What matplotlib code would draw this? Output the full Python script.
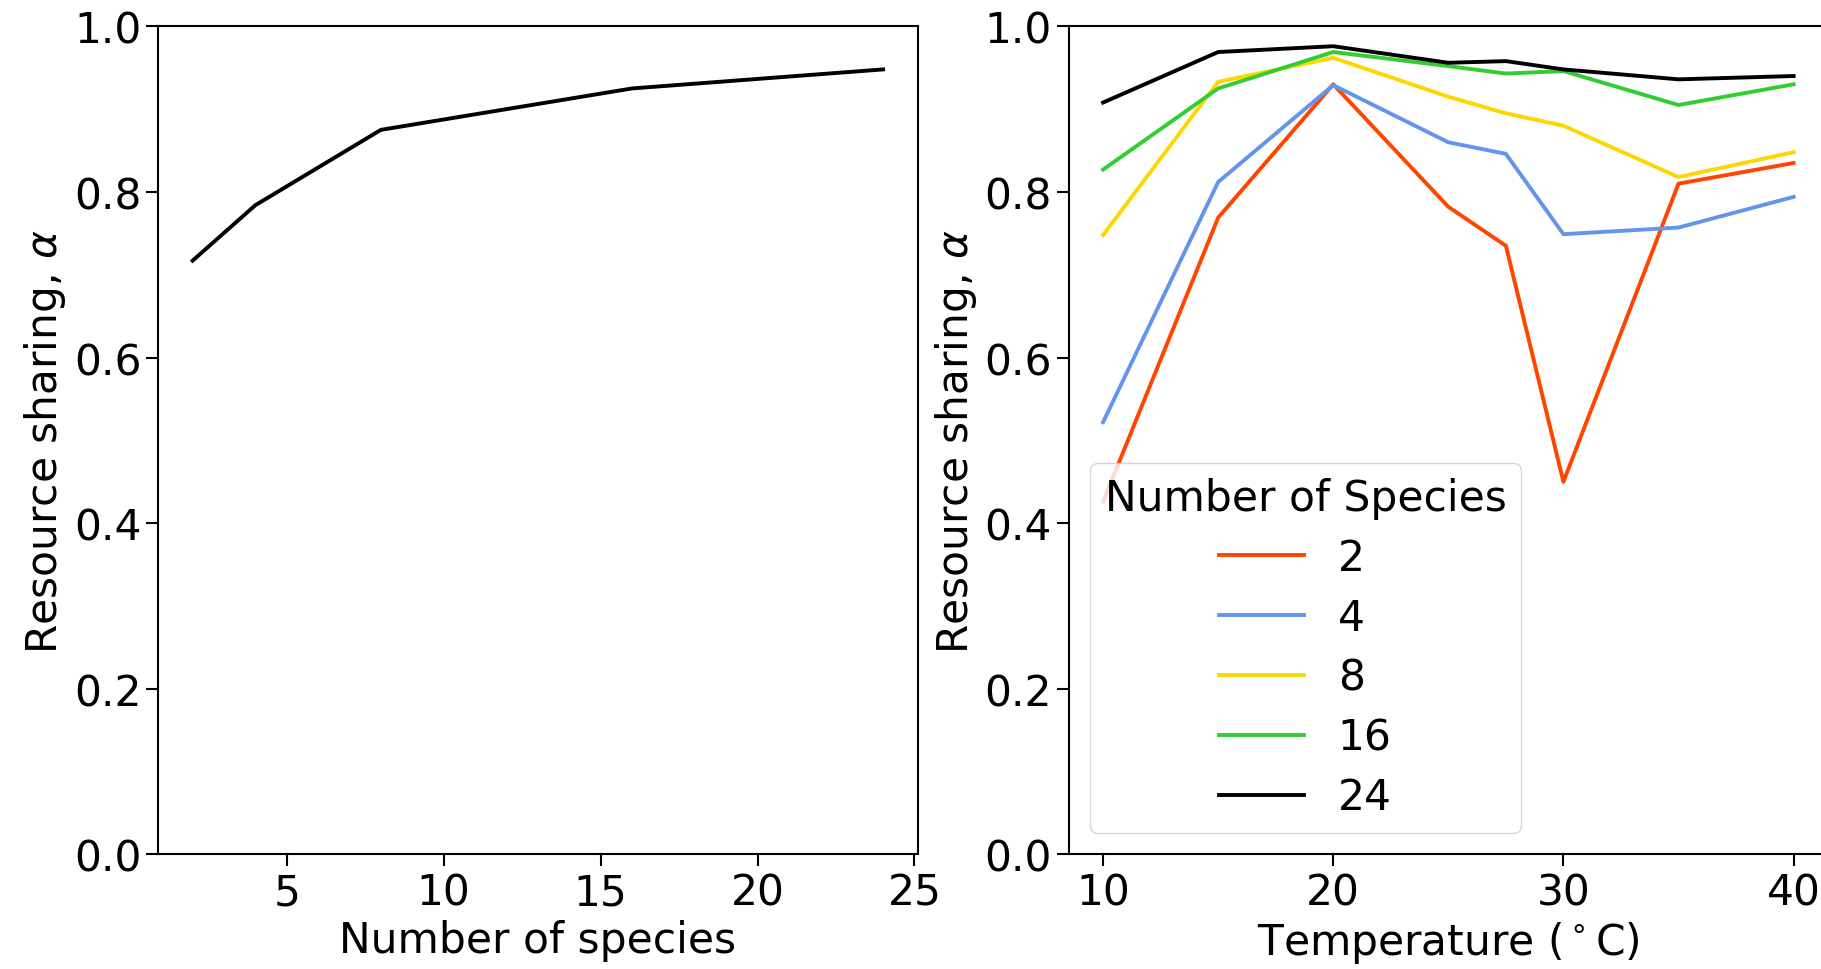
import matplotlib
matplotlib.use("Agg")
import matplotlib.pyplot as plt

# left panel: alpha vs number of species
n_species = [2, 4, 8, 16, 24]
alpha_species = [0.717, 0.784, 0.875, 0.925, 0.948]

# right panel: alpha vs temperature, one line per community size
temps = [10, 15, 20, 25, 27.5, 30, 35, 40]
series_labels = ["2", "4", "8", "16", "24"]
alpha_2 = [0.426, 0.769, 0.930, 0.782, 0.735, 0.450, 0.810, 0.835]
alpha_4 = [0.522, 0.812, 0.929, 0.860, 0.846, 0.749, 0.757, 0.794]
alpha_8 = [0.748, 0.933, 0.962, 0.915, 0.895, 0.880, 0.818, 0.848]
alpha_16 = [0.827, 0.925, 0.969, 0.952, 0.943, 0.946, 0.905, 0.930]
alpha_24 = [0.908, 0.969, 0.976, 0.956, 0.958, 0.948, 0.936, 0.940]
colors = ["orangered", "cornflowerblue", "gold", "limegreen", "black"]

fs = 30.5
plt.rcParams["font.size"] = fs
plt.rcParams["axes.linewidth"] = 1.5
plt.rcParams["xtick.major.size"] = 8.5
plt.rcParams["ytick.major.size"] = 8.5
plt.rcParams["xtick.major.width"] = 1.5
plt.rcParams["ytick.major.width"] = 1.5

fig = plt.figure(figsize=(18.21, 9.70), dpi=100)
ax1 = fig.add_axes([0.0868, 0.1182, 0.4171, 0.8536])
ax2 = fig.add_axes([0.5868, 0.1182, 0.4171, 0.8536])

ax1.plot(n_species, alpha_species, color="black", lw=2.8)
ax1.set_ylim(0, 1)
ax1.set_xticks([5, 10, 15, 20, 25])
ax1.set_xlabel("Number of species")
ax1.set_ylabel(r"Resource sharing, $\alpha$")

for vals, lab, c in zip([alpha_2, alpha_4, alpha_8, alpha_16, alpha_24], series_labels, colors):
    ax2.plot(temps, vals, color=c, lw=2.8, label=lab)
ax2.set_ylim(0, 1)
ax2.set_xticks([10, 20, 30, 40])
ax2.set_xlabel(r"Temperature ($^\circ$C)")
ax2.set_ylabel(r"Resource sharing, $\alpha$")
ax2.legend(title="Number of Species", loc="lower left", title_fontsize=fs,
           labelspacing=0.42, borderpad=0.35)

for ax in (ax1, ax2):
    ax.set_yticks([0.0, 0.2, 0.4, 0.6, 0.8, 1.0])

fig.savefig("out.png", dpi=100)
